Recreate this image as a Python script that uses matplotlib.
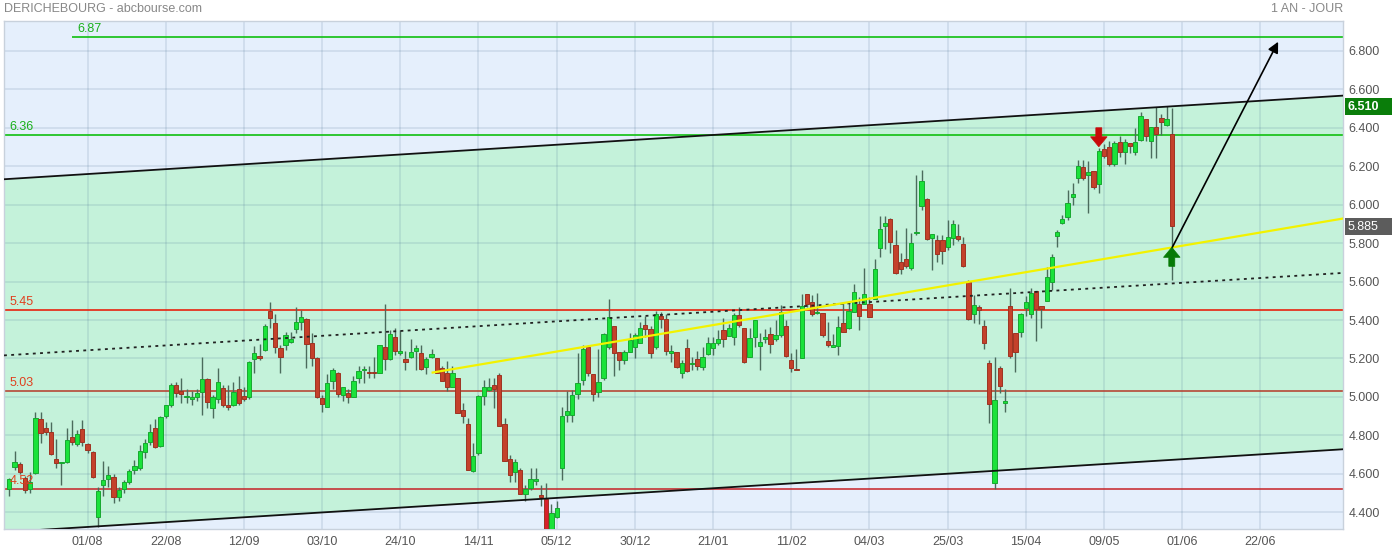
import matplotlib
matplotlib.use('Agg')
import matplotlib.pyplot as plt
from matplotlib.transforms import blended_transform_factory
from matplotlib.patches import Polygon, Rectangle
import numpy as np

plt.rcParams['font.family'] = ['Liberation Sans', 'DejaVu Sans']

# ---------------- data ----------------
tick_labels = ['01/08', '22/08', '12/09', '03/10', '24/10', '14/11', '05/12', '30/12',
               '21/01', '11/02', '04/03', '25/03', '15/04', '09/05', '01/06', '22/06']
tick_index = [15, 30, 45, 60, 75, 90, 105, 120, 135, 150, 165, 180, 195, 210, 225, 240]

opens = [4.523, 4.634, 4.650, 4.577, 4.523, 4.603, 4.884, 4.837, 4.819, 4.677,
         4.658, 4.660, 4.793, 4.754, 4.832, 4.754, 4.714, 4.374, 4.541, 4.573,
         4.585, 4.481, 4.520, 4.558, 4.620, 4.629, 4.712, 4.764, 4.837, 4.746,
         4.901, 4.958, 5.060, 5.030, 5.000, 4.990, 5.000, 5.027, 5.092, 4.941,
         4.988, 5.048, 4.955, 4.958, 5.040, 5.005, 4.999, 5.199, 5.213, 5.244,
         5.448, 5.383, 5.253, 5.268, 5.287, 5.352, 5.391, 5.404, 5.279, 5.201,
         4.993, 4.949, 5.085, 5.123, 5.009, 5.022, 5.001, 5.100, 5.138, 5.124,
         5.130, 5.126, 5.258, 5.196, 5.313, 5.227, 5.199, 5.206, 5.237, 5.227,
         5.154, 5.209, 5.201, 5.149, 5.126, 5.053, 5.097, 4.932, 4.858, 4.615,
         4.707, 5.005, 5.036, 5.062, 5.113, 4.859, 4.676, 4.611, 4.620, 4.494,
         4.528, 4.561, 4.490, 4.468, 4.250, 4.374, 4.629, 4.906, 4.906, 5.015,
         5.088, 5.261, 5.118, 5.024, 5.100, 5.261, 5.369, 5.232, 5.192, 5.235,
         5.261, 5.282, 5.372, 5.352, 5.261, 5.423, 5.404, 5.227, 5.232, 5.126,
         5.253, 5.173, 5.196, 5.157, 5.222, 5.253, 5.282, 5.347, 5.319, 5.310,
         5.425, 5.361, 5.210, 5.310, 5.263, 5.303, 5.326, 5.300, 5.322, 5.371,
         5.190, 5.142, 5.201, 5.534, 5.492, 5.438, 5.435, 5.289, 5.261, 5.265,
         5.383, 5.361, 5.443, 5.482, 5.482, 5.482, 5.509, 5.773, 5.891, 5.924,
         5.789, 5.703, 5.716, 5.669, 5.851, 5.994, 6.028, 5.825, 5.816, 5.816,
         5.781, 5.825, 5.837, 5.794, 5.596, 5.430, 5.466, 5.369, 5.175, 4.551,
         5.149, 4.967, 5.472, 5.331, 5.336, 5.461, 5.430, 5.551, 5.473, 5.500,
         5.599, 5.838, 5.903, 5.934, 6.038, 6.140, 6.194, 6.154, 6.175, 6.106,
         6.288, 6.302, 6.210, 6.328, 6.272, 6.319, 6.272, 6.336, 6.444, 6.331,
         6.402, 6.449, 6.414, 6.366]

closes = [4.572, 4.660, 4.611, 4.516, 4.559, 4.889, 4.811, 4.819, 4.702, 4.655,
          4.662, 4.776, 4.764, 4.807, 4.767, 4.724, 4.585, 4.511, 4.568, 4.592,
          4.481, 4.516, 4.560, 4.613, 4.640, 4.719, 4.759, 4.819, 4.741, 4.895,
          4.958, 5.062, 5.020, 5.015, 5.005, 5.000, 5.020, 5.092, 4.975, 4.999,
          5.076, 4.958, 4.950, 5.027, 4.967, 4.988, 5.180, 5.227, 5.205, 5.369,
          5.412, 5.261, 5.209, 5.320, 5.300, 5.391, 5.417, 5.274, 5.201, 5.001,
          4.962, 5.074, 5.139, 5.014, 5.053, 5.001, 5.081, 5.133, 5.141, 5.122,
          5.123, 5.269, 5.196, 5.325, 5.240, 5.237, 5.180, 5.233, 5.253, 5.144,
          5.199, 5.222, 5.123, 5.085, 5.053, 5.123, 4.915, 4.902, 4.620, 4.693,
          5.005, 5.050, 5.050, 5.040, 4.851, 4.667, 4.594, 4.660, 4.494, 4.521,
          4.575, 4.573, 4.478, 4.200, 4.395, 4.421, 4.901, 4.927, 5.010, 5.071,
          5.249, 5.123, 5.015, 5.080, 5.327, 5.416, 5.230, 5.190, 5.232, 5.296,
          5.324, 5.357, 5.355, 5.227, 5.430, 5.404, 5.240, 5.237, 5.154, 5.175,
          5.137, 5.177, 5.162, 5.210, 5.279, 5.279, 5.300, 5.300, 5.357, 5.425,
          5.374, 5.180, 5.305, 5.399, 5.284, 5.313, 5.274, 5.322, 5.443, 5.215,
          5.149, 5.140, 5.475, 5.482, 5.430, 5.443, 5.320, 5.268, 5.270, 5.366,
          5.339, 5.446, 5.547, 5.423, 5.534, 5.414, 5.665, 5.872, 5.903, 5.807,
          5.643, 5.667, 5.682, 5.799, 5.853, 6.123, 5.820, 5.847, 5.742, 5.761,
          5.830, 5.899, 5.820, 5.682, 5.404, 5.477, 5.452, 5.279, 4.962, 4.984,
          5.058, 4.977, 5.214, 5.232, 5.431, 5.492, 5.542, 5.456, 5.456, 5.622,
          5.726, 5.858, 5.925, 6.007, 6.055, 6.201, 6.137, 6.168, 6.090, 6.279,
          6.255, 6.211, 6.319, 6.272, 6.324, 6.305, 6.324, 6.461, 6.358, 6.402,
          6.366, 6.428, 6.444, 5.887]

highs = [4.580, 4.719, 4.660, 4.590, 4.610, 4.920, 4.920, 4.870, 4.870, 4.780,
         4.664, 4.837, 4.880, 4.830, 4.880, 4.760, 4.720, 4.530, 4.667, 4.640,
         4.600, 4.530, 4.570, 4.625, 4.670, 4.750, 4.780, 4.860, 4.885, 4.900,
         4.960, 5.070, 5.080, 5.100, 5.040, 5.030, 5.040, 5.210, 5.100, 5.010,
         5.149, 5.060, 5.060, 5.080, 5.110, 5.050, 5.185, 5.265, 5.275, 5.380,
         5.494, 5.430, 5.270, 5.340, 5.340, 5.470, 5.450, 5.410, 5.330, 5.210,
         5.010, 5.120, 5.150, 5.130, 5.053, 5.040, 5.110, 5.160, 5.160, 5.160,
         5.210, 5.270, 5.483, 5.350, 5.360, 5.350, 5.240, 5.300, 5.270, 5.270,
         5.210, 5.250, 5.200, 5.160, 5.186, 5.160, 5.097, 4.970, 4.890, 4.760,
         5.010, 5.090, 5.100, 5.100, 5.123, 4.890, 4.700, 4.675, 4.630, 4.540,
         4.630, 4.630, 4.542, 4.551, 4.442, 4.460, 4.950, 5.030, 5.035, 5.227,
         5.270, 5.270, 5.120, 5.250, 5.330, 5.510, 5.370, 5.235, 5.245, 5.330,
         5.330, 5.390, 5.420, 5.370, 5.445, 5.440, 5.430, 5.270, 5.232, 5.190,
         5.300, 5.210, 5.240, 5.260, 5.310, 5.310, 5.350, 5.410, 5.380, 5.435,
         5.470, 5.361, 5.360, 5.400, 5.330, 5.355, 5.365, 5.400, 5.480, 5.400,
         5.230, 5.250, 5.535, 5.534, 5.530, 5.540, 5.435, 5.390, 5.325, 5.420,
         5.490, 5.495, 5.585, 5.520, 5.670, 5.520, 5.717, 5.940, 5.940, 5.930,
         5.870, 5.750, 5.880, 5.850, 6.154, 6.180, 6.033, 5.847, 5.843, 5.843,
         5.920, 5.920, 5.900, 5.830, 5.610, 5.530, 5.480, 5.400, 5.190, 5.206,
         5.160, 5.040, 5.567, 5.331, 5.435, 5.525, 5.565, 5.551, 5.473, 5.677,
         5.742, 5.870, 5.945, 6.075, 6.110, 6.230, 6.230, 6.225, 6.175, 6.293,
         6.314, 6.330, 6.330, 6.355, 6.342, 6.320, 6.400, 6.482, 6.444, 6.402,
         6.506, 6.470, 6.513, 6.504]

lows = [4.486, 4.620, 4.600, 4.500, 4.500, 4.600, 4.760, 4.800, 4.700, 4.630,
        4.542, 4.655, 4.750, 4.745, 4.745, 4.710, 4.580, 4.325, 4.486, 4.530,
        4.450, 4.460, 4.500, 4.545, 4.600, 4.620, 4.680, 4.750, 4.735, 4.740,
        4.890, 4.950, 5.000, 4.970, 4.970, 4.960, 4.980, 4.906, 4.940, 4.889,
        4.970, 4.950, 4.930, 4.955, 4.960, 4.980, 4.990, 5.123, 5.190, 5.240,
        5.360, 5.230, 5.126, 5.245, 5.280, 5.330, 5.350, 5.150, 5.160, 4.995,
        4.920, 4.949, 5.040, 5.000, 4.980, 4.970, 5.000, 5.070, 5.070, 5.100,
        5.100, 5.126, 5.140, 5.190, 5.220, 5.220, 5.140, 5.200, 5.140, 5.140,
        5.120, 5.200, 5.123, 5.085, 5.030, 5.053, 4.915, 4.866, 4.620, 4.610,
        4.700, 4.960, 5.030, 4.940, 4.850, 4.667, 4.560, 4.560, 4.494, 4.460,
        4.515, 4.540, 4.433, 4.150, 4.220, 4.370, 4.570, 4.870, 4.870, 4.990,
        5.060, 5.110, 4.980, 5.000, 5.090, 5.250, 5.110, 5.140, 5.170, 5.235,
        5.200, 5.280, 5.310, 5.200, 5.250, 5.360, 5.220, 5.180, 5.150, 5.100,
        5.130, 5.140, 5.140, 5.140, 5.220, 5.220, 5.270, 5.260, 5.315, 5.270,
        5.365, 5.175, 5.210, 5.260, 5.140, 5.280, 5.230, 5.290, 5.310, 5.210,
        5.130, 5.140, 5.201, 5.470, 5.420, 5.430, 5.310, 5.260, 5.260, 5.220,
        5.339, 5.355, 5.440, 5.350, 5.482, 5.414, 5.509, 5.730, 5.770, 5.750,
        5.640, 5.640, 5.670, 5.660, 5.840, 5.970, 5.815, 5.660, 5.700, 5.690,
        5.765, 5.790, 5.810, 5.675, 5.400, 5.385, 5.380, 5.250, 4.866, 4.521,
        5.020, 4.920, 5.205, 5.130, 5.310, 5.420, 5.410, 5.290, 5.360, 5.500,
        5.555, 5.780, 5.900, 5.920, 6.000, 6.110, 6.130, 5.958, 6.080, 6.060,
        6.240, 6.200, 6.200, 6.250, 6.210, 6.270, 6.260, 6.330, 6.330, 6.244,
        6.240, 6.360, 6.410, 5.608]

levels_green = [6.87, 6.36]
levels_red = [5.45, 5.03, 4.52]

# trend lines: (index, price) endpoints
channel_upper = [(-1.02, 6.132), (255.9, 6.567)]
channel_lower = [(-1.02, 4.297), (255.9, 4.728)]
dotted_trend = [(-1.02, 5.216), (255.9, 5.645)]
yellow_trend = [(81.0, 5.126), (255.9, 5.928)]
target_arrow = [(223, 5.773), (243.4, 6.847)]
sell_signal = (209, 6.301)
buy_signal = (223, 5.778)
channel_value = 6.510
last_close = 5.885

# ---------------- figure ----------------
W, H = 1392, 552
fig = plt.figure(figsize=(W / 100, H / 100), dpi=100)
fig.patch.set_facecolor('white')
ax_l, ax_r, ax_t, ax_b = 4, 1343.3, 21.3, 529.3
ax = fig.add_axes([ax_l / W, 1 - ax_b / H, (ax_r - ax_l) / W, (ax_b - ax_t) / H])
xmin, xmax = -1.02, 255.9
ax.set_xlim(xmin, xmax)
ax.set_ylim(4.3117, 6.9534)
ax.set_facecolor('#E5EFFC')


def line_at(pts, x):
    (x0, y0), (x1, y1) = pts
    return y0 + (y1 - y0) * (np.asarray(x) - x0) / (x1 - x0)


xs = np.array([xmin, xmax])
ax.fill_between(xs, line_at(channel_lower, xs), line_at(channel_upper, xs),
                color='#C4F2DA', zorder=0.2, lw=0)

# grid
ax.set_yticks(np.round(np.arange(4.4, 6.81, 0.2), 1))
ax.set_yticklabels(['%.3f' % v for v in np.arange(4.4, 6.81, 0.2)])
ax.set_xticks(tick_index)
ax.set_xticklabels(tick_labels)
ax.set_axisbelow(True)
ax.grid(True, color=(0.25, 0.40, 0.55), alpha=0.15, lw=1.2)
ax.yaxis.tick_right()
ax.tick_params(axis='y', length=0, pad=4, labelsize=9, labelcolor='#555555')
ax.tick_params(axis='x', length=0, pad=5, labelsize=9, labelcolor='#555555')
for s in ax.spines.values():
    s.set_color('#C8D1DC')
    s.set_linewidth(1)

# horizontal levels
ax.hlines(levels_green[0], 12, xmax, color='#10C010', lw=1.2, zorder=2)
ax.hlines(levels_green[1], xmin, xmax, color='#10C010', lw=1.2, zorder=2)
ax.hlines(levels_red[0], xmin, xmax, color='#E8230E', lw=1.2, zorder=2)
ax.hlines(levels_red[1], xmin, xmax, color='#B53A28', lw=1.1, zorder=2)
ax.hlines(levels_red[2], xmin, xmax, color='#C62226', lw=1.1, zorder=2)

label_x = [13.0, 0.0, 0.0, 0.0, 0.0]
for lx, lv, col in zip(label_x, levels_green + levels_red,
                       ['#1BB01B', '#1BB01B', '#E0401E', '#E0401E', '#E0401E']):
    ax.annotate('%.2f' % lv, xy=(lx, lv), xytext=(0, 1.5), textcoords='offset points',
                ha='left', va='bottom', fontsize=9, color=col, zorder=7)

# candles
idx = np.arange(len(opens))
o = np.array(opens); c = np.array(closes); hi = np.array(highs); lo = np.array(lows)
up = c >= o
body_lo = np.minimum(o, c)
body_h = np.maximum(np.abs(c - o), 0.006)
face = np.where(up, '#1AE23A', '#C4412B')
edge = np.where(up, '#17A830', '#9E3322')
big_drop = (o - c) > 0.25
face = np.where(big_drop & (c < 4.3), '#D8202C', face)
ax.vlines(idx, lo, hi, color='#4B6B5C', lw=1, zorder=3)
ax.bar(idx, body_h, bottom=body_lo, width=0.82, color=face, edgecolor=edge,
       linewidth=0.7, zorder=4)

# trend lines
for pts, kw in [(channel_upper, dict(color='#111111', lw=1.3)),
                (channel_lower, dict(color='#111111', lw=1.3)),
                (dotted_trend, dict(color='#222222', lw=1.3, ls=(0, (1.6, 2.4)))),
                (yellow_trend, dict(color='#F2F200', lw=1.6))]:
    (x0, y0), (x1, y1) = pts
    ax.plot([x0, x1], [y0, y1], zorder=5, solid_capstyle='butt', **kw)

# target arrow
ax.annotate('', xy=target_arrow[1], xytext=target_arrow[0],
            arrowprops=dict(arrowstyle='-|>', color='black', lw=1.2,
                            mutation_scale=16, shrinkA=0, shrinkB=0), zorder=6)

# signal arrows (block arrows), sizes in index/price units
px_x = 5.213
px_y = 192.3


def block_arrow(tip, direction, color):
    x, y = tip
    tw, th = 8.3 / px_x, 10.0 / px_y
    sw, sh = 3.0 / px_x, 9.0 / px_y
    d = direction
    pts = [(x, y), (x - tw, y + d * th), (x - sw, y + d * th), (x - sw, y + d * (th + sh)),
           (x + sw, y + d * (th + sh)), (x + sw, y + d * th), (x + tw, y + d * th)]
    ax.add_patch(Polygon(pts, closed=True, facecolor=color, edgecolor=color, lw=0.5, zorder=6))


block_arrow(sell_signal, +1, '#C80A0A')
block_arrow(buy_signal, -1, '#067A06')

# right-side value boxes
tr = blended_transform_factory(fig.transFigure, ax.transData)
bh = 17.4 / px_y
for val, col in [(channel_value, '#0A7D0A'), (last_close, '#5C5C5C')]:
    ax.add_patch(Rectangle((1345 / W, val - bh / 2), (W - 1345) / W, bh, transform=tr,
                           facecolor=col, edgecolor='none', clip_on=False, zorder=8))
    ax.text(1348 / W, val, '%.3f' % val, transform=tr, color='white', fontsize=9,
            fontweight='bold' if col == '#0A7D0A' else 'normal',
            ha='left', va='center', zorder=9, clip_on=False)

# header
fig.text(4 / W, 1 - 9 / H, 'DERICHEBOURG - abcbourse.com', color='#888888', fontsize=9,
         ha='left', va='center')
fig.text(ax_r / W, 1 - 9 / H, '1 AN - JOUR', color='#888888', fontsize=9,
         ha='right', va='center')

fig.savefig('out.png', dpi=100)
